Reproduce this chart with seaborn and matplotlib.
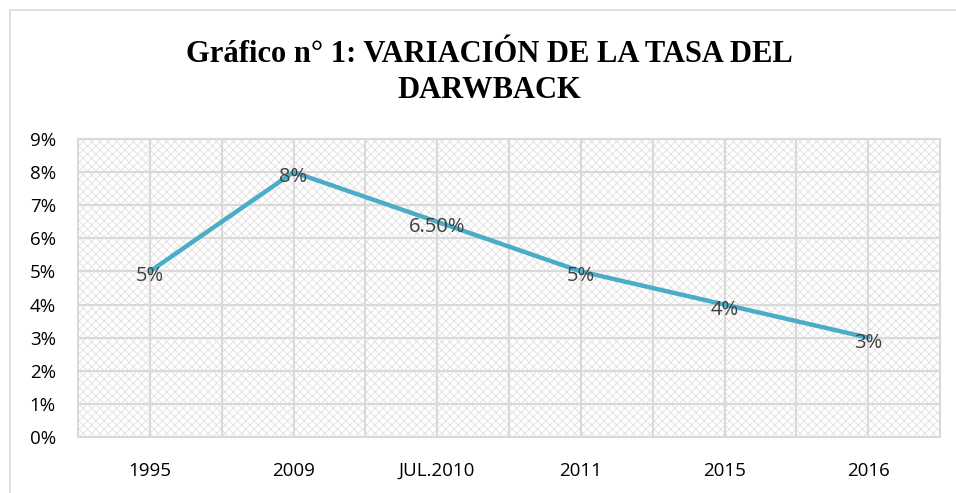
import matplotlib
matplotlib.use("Agg")
import numpy as np
import pandas as pd
import seaborn as sns
from matplotlib import pyplot as plt
from matplotlib.patches import Rectangle
from matplotlib.ticker import FuncFormatter, MultipleLocator

periods = ["1995", "2009", "JUL.2010", "2011", "2015", "2016"]
rates = [5.0, 8.0, 6.5, 5.0, 4.0, 3.0]
rate_labels = ["5%", "8%", "6.50%", "5%", "4%", "3%"]

title = "Gráfico n° 1: VARIACIÓN DE LA TASA DEL\nDARWBACK"

df = pd.DataFrame({"pos": np.arange(len(periods)), "rate": rates, "label": rate_labels})

sns.set_theme(style="white")
plt.rcParams["font.family"] = ["Open Sans", "DejaVu Sans"]
plt.rcParams["hatch.linewidth"] = 0.7

fig = plt.figure(figsize=(9.56, 4.93), dpi=100)
ax = fig.add_axes([0.0816, 0.1136, 0.9017, 0.6044])

# outer chart frame
fig.patches.append(Rectangle((10 / 956, -0.1), 1.2, (493 - 10) / 493 + 0.1,
                             transform=fig.transFigure, fill=False,
                             edgecolor="#d9d9d9", lw=1.2))

# patterned plot background
ax.add_patch(Rectangle((0, 0), 1, 1, transform=ax.transAxes, facecolor="white",
                       hatch="xxxx", edgecolor="#e3e3e3", lw=0, zorder=0))

sns.lineplot(data=df, x="pos", y="rate", ax=ax, color="#4bacc6", lw=3.2,
             sort=False, zorder=3)

for _, row in df.iterrows():
    ax.text(row["pos"], row["rate"] - 0.15, row["label"], ha="center", va="center",
            fontsize=14.5, color="#404040", zorder=4)

ax.set_xlim(-0.5, len(periods) - 0.5)
ax.set_ylim(0, 9)
ax.yaxis.set_major_locator(MultipleLocator(1))
ax.yaxis.set_major_formatter(FuncFormatter(lambda v, p: f"{v:.0f}%"))
ax.set_xticks(df["pos"])
ax.set_xticklabels(periods)
ax.xaxis.set_minor_locator(MultipleLocator(0.5))
ax.tick_params(axis="both", labelsize=13.5, colors="black", length=0)
ax.tick_params(axis="x", pad=18)
ax.tick_params(axis="y", pad=16)

ax.grid(True, which="both", axis="x", color="#d9d9d9", lw=1.5, zorder=1)
ax.grid(True, which="major", axis="y", color="#d9d9d9", lw=1.5, zorder=1)
ax.set_axisbelow(True)
for s in ax.spines.values():
    s.set_visible(True)
    s.set_color("#d9d9d9")
    s.set_linewidth(1.5)

ax.set_xlabel("")
ax.set_ylabel("")

fig.text(0.512, 0.853, title, ha="center", va="center", fontsize=22,
         fontweight="bold", color="black",
         family=["Liberation Serif", "DejaVu Serif"], linespacing=1.32)

fig.savefig("out.png", dpi=100)
